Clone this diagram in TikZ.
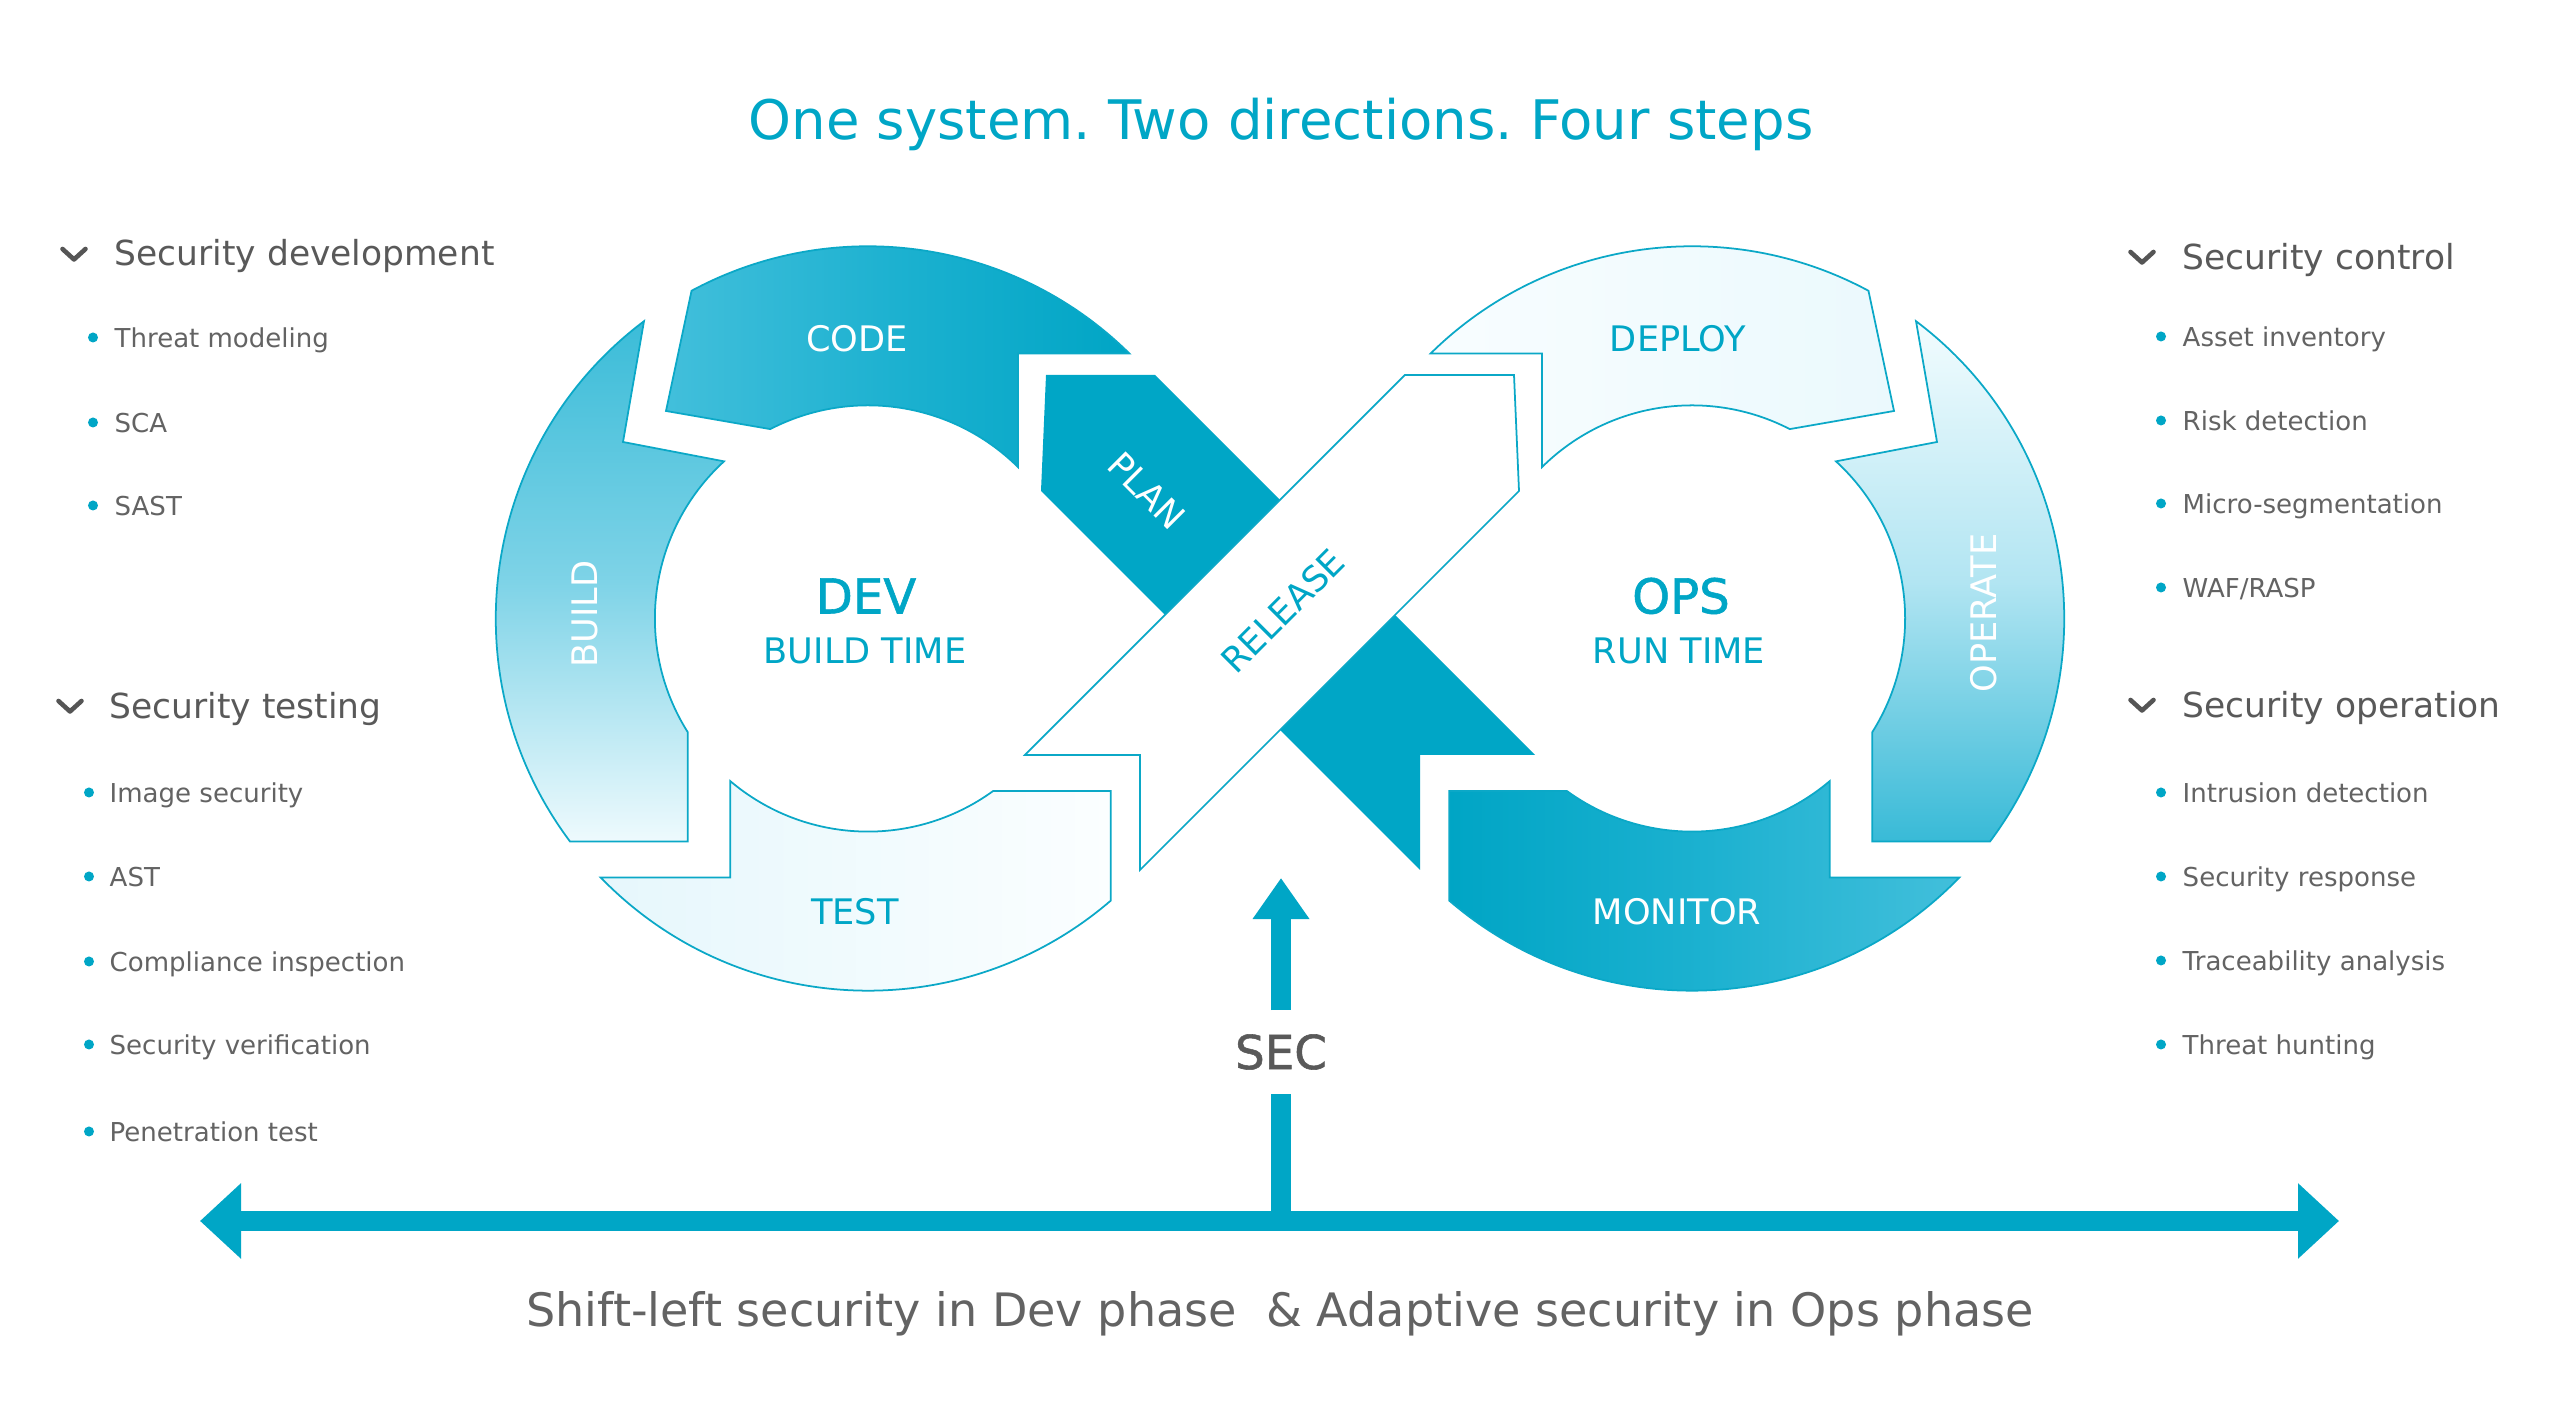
\documentclass[tikz,border=0pt]{standalone}
\usepackage{fontspec}
\setmainfont{DejaVu Sans}
\newfontfamily\medfont{DejaVu Sans}[FakeBold=1.2]
\usetikzlibrary{calc,arrows.meta}
\frenchspacing
\definecolor{tealA}{HTML}{00A6C6}
\definecolor{tealLine}{HTML}{0BA8C7}
\definecolor{grayHead}{HTML}{595959}
\definecolor{grayItem}{HTML}{636363}
\definecolor{grayChev}{HTML}{555555}
\definecolor{codeL}{HTML}{42BFDB}
\definecolor{codeM}{HTML}{1CB1D0}
\definecolor{codeR}{HTML}{00A5C5}
\definecolor{buildT}{HTML}{3BBCD8}
\definecolor{buildM}{HTML}{7ED3E7}
\definecolor{buildB}{HTML}{EEFAFD}
\definecolor{testL}{HTML}{E6F7FC}
\definecolor{testR}{HTML}{FBFEFF}
\definecolor{depL}{HTML}{F8FDFF}
\definecolor{depR}{HTML}{EBF9FD}
\definecolor{opT}{HTML}{F2FCFE}
\definecolor{opM}{HTML}{B2E5F2}
\definecolor{opB}{HTML}{38BAD7}
\definecolor{monL}{HTML}{00A5C5}
\definecolor{monM}{HTML}{1CB1D0}
\definecolor{monR}{HTML}{42BFDB}
\newcommand\fsTitle{\fontsize{15.5}{19}\selectfont}
\newcommand\fsHead{\fontsize{9.8}{12}\selectfont}
\newcommand\fsItem{\fontsize{7.4}{9}\selectfont}
\newcommand\fsLab{\fontsize{10}{12}\selectfont}
\newcommand\fsBig{\fontsize{13.7}{16}\selectfont}
\newcommand\fsSec{\fontsize{13.3}{16}\selectfont}
\newcommand\fsBottom{\fontsize{13.1}{16}\selectfont}
\newcommand\chevAt[2]{\draw[chevst] (#1-11.5,1427-#2) -- (#1,1416.5-#2) -- (#1+11.5,1427-#2);}
\newcommand\bulAt[2]{\fill[tealA] (#1,#2) circle[radius=0.05cm];}
\begin{document}
\begin{tikzpicture}[x=0.01cm,y=0.01cm,
  seg/.style={draw=tealLine, line width=0.5pt, line join=miter},
  lab/.style={inner sep=0pt, font=\fsLab},
  head/.style={anchor=base west, inner sep=0pt, text=grayHead, font=\fsHead},
  item/.style={anchor=base west, inner sep=0pt, text=grayItem, font=\fsItem},
  chevst/.style={draw=grayChev, line width=1.3pt, line cap=round, line join=round},
  shaft/.style={draw=tealA, line width=0.2cm}]
\useasboundingbox (0,0) rectangle (2560,1422);
\fill[white] (0,0) rectangle (2560,1422);
\def\rOut{3.72cm}
\def\rIn{2.13cm}
\coordinate (CL) at (868,803.5);
\coordinate (CR) at (1692,803.5);

% ---------- left loop ----------
% CODE
\path[seg, left color=codeL, right color=codeR, middle color=codeM]
  ($(CL)+(45.3:\rIn)$) |- ($(CL)+(45.4:\rOut)$)
  arc[start angle=45.4, end angle=118.3, radius=\rOut]
  -- (666,1422-411) -- ($(CL)+(117.3:\rIn)$)
  arc[start angle=117.3, end angle=45.3, radius=\rIn] -- cycle;
% BUILD
\path[seg, top color=buildT, bottom color=buildB, middle color=buildM]
  (623,1422-442) -- ($(CL)+(127.0:\rOut)$)
  arc[start angle=127.0, end angle=216.8, radius=\rOut]
  -| ($(CL)+(212.2:\rIn)$)
  arc[start angle=212.2, end angle=132.5, radius=\rIn] -- cycle;
% TEST
\path[seg, left color=testL, right color=testR]
  ($(CL)+(229.7:\rIn)$) |- ($(CL)+(224.1:\rOut)$)
  arc[start angle=224.1, end angle=310.7, radius=\rOut]
  |- ($(CL)+(306.0:\rIn)$)
  arc[start angle=306.0, end angle=229.7, radius=\rIn] -- cycle;

% ---------- right loop ----------
% DEPLOY
\path[seg, left color=depL, right color=depR]
  ($(CR)+(134.7:\rIn)$) |- ($(CR)+(134.6:\rOut)$)
  arc[start angle=134.6, end angle=61.7, radius=\rOut]
  -- (1894,1422-411) -- ($(CR)+(62.7:\rIn)$)
  arc[start angle=62.7, end angle=134.7, radius=\rIn] -- cycle;
% OPERATE
\path[seg, top color=opT, bottom color=opB, middle color=opM]
  (1937,1422-442) -- ($(CR)+(53.0:\rOut)$)
  arc[start angle=53.0, end angle=-36.8, radius=\rOut]
  -| ($(CR)+(-32.2:\rIn)$)
  arc[start angle=-32.2, end angle=47.5, radius=\rIn] -- cycle;
% MONITOR
\path[seg, left color=monL, right color=monR, middle color=monM]
  ($(CR)+(-49.7:\rIn)$) |- ($(CR)+(-44.1:\rOut)$)
  arc[start angle=-44.1, end angle=-130.7, radius=\rOut]
  |- ($(CR)+(-126.0:\rIn)$)
  arc[start angle=-126.0, end angle=-49.7, radius=\rIn] -- cycle;

% ---------- crossing ----------
\fill[tealA] (1046,1047) -- (1155,1047) -- (1535,667) -- (1420,667)
  -- (1420,552) -- (1041,931) -- cycle;
\path[seg, fill=white] (1514,1047) -- (1405,1047) -- (1025,667) -- (1140,667)
  -- (1140,552) -- (1519,931) -- cycle;

% ---------- labels ----------
\node[lab, text=white] (lcode) at (857,1083) {CODE};
\node[lab, text=tealA] (ltest) at (855,510) {TEST};
\node[lab, text=white, rotate=90] (lbuild) at (585,808) {BUILD};
\node[lab, text=white, rotate=-45] (lplan) at (1147,931) {PLAN};
\node[lab, text=tealA, rotate=45] (lrel) at (1283,811) {RELEASE};
\node[lab, text=tealA] (ldep) at (1678,1083) {DEPLOY};
\node[lab, text=white, rotate=90] (lop) at (1984,809) {OPERATE};
\node[lab, text=white] (lmon) at (1677,510) {MONITOR};

\node[anchor=base, inner sep=0pt, text=tealA, font=\fsBig\medfont] (dev) at (866,808.5) {DEV};
\node[anchor=base, inner sep=0pt, text=tealA, font=\fsLab] (bt) at (865,758) {BUILD TIME};
\node[anchor=base, inner sep=0pt, text=tealA, font=\fsBig\medfont] (ops) at (1681,808.5) {OPS};
\node[anchor=base, inner sep=0pt, text=tealA, font=\fsLab] (rt) at (1679,758) {RUN TIME};

% ---------- title ----------
\node[anchor=base, inner sep=0pt, text=tealA, font=\fsTitle] (title) at (1281,1282)
  {One system. Two directions. Four steps};

% ---------- left lists ----------
\chevAt{74}{254}
\node[head] (sdev) at (114,1156) {Security development};
\bulAt{93}{1084.5}\node[item] (i11) at (114,1074.5) {Threat modeling};
\bulAt{93}{999.5}\node[item] (i12) at (114,989.5) {SCA};
\bulAt{93}{916.5}\node[item] (i13) at (114,906.5) {SAST};

\chevAt{70}{706}
\node[head] (stest) at (109,703.5) {Security testing};
\bulAt{89}{629.5}\node[item] (i21) at (109,619.5) {Image security};
\bulAt{89}{545.5}\node[item] (i22) at (109,535.5) {AST};
\bulAt{89}{460.5}\node[item] (i23) at (109,450.5) {Compliance inspection};
\bulAt{89}{377.5}\node[item] (i24) at (109,367.5) {Security verification};
\bulAt{89}{290.5}\node[item] (i25) at (109,280.5) {Penetration test};

% ---------- right lists ----------
\chevAt{2142}{257}
\node[head] (sctl) at (2182,1152.5) {Security control};
\bulAt{2161}{1085.5}\node[item] (i31) at (2182,1075.5) {Asset inventory};
\bulAt{2161}{1001.5}\node[item] (i32) at (2182,991.5) {Risk detection};
\bulAt{2161}{918.5}\node[item] (i33) at (2182,908.5) {Micro-segmentation};
\bulAt{2161}{834.5}\node[item] (i34) at (2182,824.5) {WAF/RASP};

\chevAt{2142}{705}
\node[head] (sop) at (2182,704.5) {Security operation};
\bulAt{2161}{629.5}\node[item] (i41) at (2182,619.5) {Intrusion detection};
\bulAt{2161}{545.5}\node[item] (i42) at (2182,535.5) {Security response};
\bulAt{2161}{461.5}\node[item] (i43) at (2182,451.5) {Traceability analysis};
\bulAt{2161}{377.5}\node[item] (i44) at (2182,367.5) {Threat hunting};

% ---------- SEC arrow and axis ----------
\coordinate (barL) at (200,201);
\coordinate (barR) at (2339,201);
\coordinate (barmid) at (1281,201);
\coordinate (sectip) at (1281,544);
\node[inner xsep=0pt, inner ysep=0.235cm, text=grayHead, font=\fsSec\medfont] (sec) at (1281,370) {SEC};
\draw[shaft] (barmid) -- (sec.south);
\draw[shaft, -{Triangle[length=0.41cm, width=0.54cm]}] (sec.north) -- (sectip);
\draw[shaft, {Triangle[length=0.41cm, width=0.73cm]}-{Triangle[length=0.41cm, width=0.73cm]}] (barL) -- (barR);

\node[anchor=base, inner sep=0pt, text=grayItem, font=\fsBottom] (bottom) at (1280,95)
  {Shift-left security in Dev phase\ \ \& Adaptive security in Ops phase};
\end{tikzpicture}
\end{document}
